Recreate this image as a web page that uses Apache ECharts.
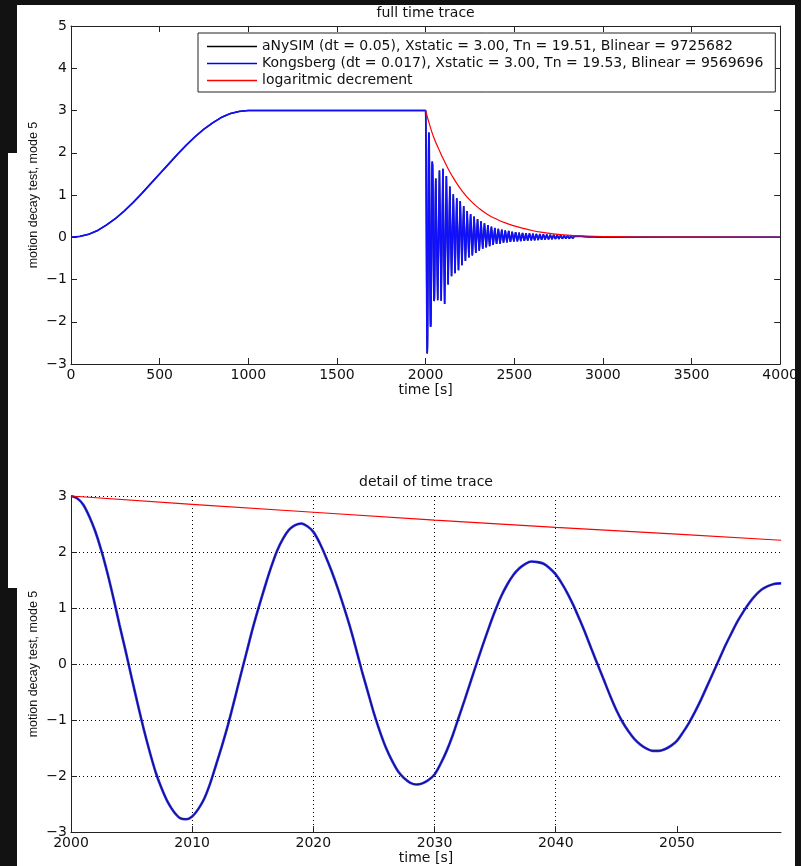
<!DOCTYPE html>
<html><head><meta charset="utf-8">
<script src="https://cdn.jsdelivr.net/npm/echarts@6/dist/echarts.min.js"></script>
<style>html,body{margin:0;padding:0;background:#121212;}#c{width:801px;height:866px;}</style>
</head><body><div id="c"></div>
<script>
// ---- data ----
const legendNames = [
  'aNySIM (dt = 0.05), Xstatic = 3.00, Tn = 19.51, Blinear = 9725682',
  'Kongsberg (dt = 0.017), Xstatic = 3.00, Tn = 19.53, Blinear = 9569696',
  'logaritmic decrement'
];
const titles = ['full time trace', 'detail of time trace'];
const xName = 'time [s]';
const yName = 'motion decay test, mode 5';

// ramp-up and hold (full trace)
const rampTime  = [0,50,100,150,200,250,300,350,400,450,500,550,600,650,700,750,800,850,900,950,1000,2000];
const rampValue = [0,0.02,0.07,0.16,0.29,0.44,0.62,0.82,1.04,1.27,1.50,1.73,1.96,2.18,2.38,2.56,2.71,2.84,2.93,2.98,3.00,3.00];

// first seconds of the decay (detail plot), every half second
const detailTime = [2000,2000.5,2001,2001.5,2002,2002.5,2003,2003.5,2004,2004.5,
  2005,2005.5,2006,2006.5,2007,2007.5,2008,2008.5,2009,2009.5,
  2010,2010.5,2011,2011.5,2012,2012.5,2013,2013.5,2014,2014.5,
  2015,2015.5,2016,2016.5,2017,2017.5,2018,2018.5,2019,2019.5,
  2020,2020.5,2021,2021.5,2022,2022.5,2023,2023.5,2024,2024.5,
  2025,2025.5,2026,2026.5,2027,2027.5,2028,2028.5,2029,2029.5,
  2030,2030.5,2031,2031.5,2032,2032.5,2033,2033.5,2034,2034.5,
  2035,2035.5,2036,2036.5,2037,2037.5,2038,2038.5,2039,2039.5,
  2040,2040.5,2041,2041.5,2042,2042.5,2043,2043.5,2044,2044.5,
  2045,2045.5,2046,2046.5,2047,2047.5,2048,2048.5,2049,2049.5,
  2050,2050.5,2051,2051.5,2052,2052.5,2053,2053.5,2054,2054.5,
  2055,2055.5,2056,2056.5,2057,2057.5,2058,2058.5,2058.6];
const detailValue = [3.00,2.96,2.85,2.64,2.37,2.03,1.63,1.18,0.70,0.24,
  -0.24,-0.71,-1.16,-1.57,-1.94,-2.23,-2.47,-2.64,-2.75,-2.77,
  -2.72,-2.59,-2.40,-2.12,-1.78,-1.43,-1.05,-0.63,-0.20,0.22,
  0.64,1.02,1.38,1.72,2.02,2.24,2.40,2.48,2.51,2.46,
  2.36,2.17,1.93,1.66,1.36,1.03,0.68,0.29,-0.12,-0.50,
  -0.88,-1.21,-1.50,-1.73,-1.92,-2.04,-2.12,-2.15,-2.13,-2.07,
  -1.97,-1.78,-1.55,-1.27,-0.95,-0.63,-0.30,0.03,0.35,0.66,
  0.95,1.21,1.42,1.59,1.71,1.79,1.83,1.82,1.79,1.71,
  1.60,1.44,1.25,1.03,0.78,0.52,0.24,-0.03,-0.30,-0.57,
  -0.82,-1.03,-1.20,-1.34,-1.44,-1.51,-1.55,-1.55,-1.52,-1.46,
  -1.37,-1.22,-1.05,-0.85,-0.63,-0.39,-0.15,0.09,0.33,0.55,
  0.76,0.94,1.10,1.23,1.33,1.39,1.43,1.44,1.44];

// successive extremes of the decay after the detail window (one every half period Tn/2)
const peakStart = 2058.6;
const peakStep = 9.765;
const peakValue = [1.44,-1.49,1.58,-1.50,1.62,-1.58,1.45,-1.12,1.20,-0.92,
  1.02,-0.85,0.92,-0.78,0.86,-0.66,0.74,-0.56,0.62,-0.48,
  0.55,-0.43,0.49,-0.37,0.43,-0.32,0.38,-0.27,0.33,-0.24,
  0.29,-0.21,0.25,-0.18,0.22,-0.16,0.20,-0.15,0.18,-0.13,
  0.16,-0.12,0.15,-0.11,0.13,-0.10,0.12,-0.095,0.11,-0.09,
  0.10,-0.085,0.095,-0.08,0.09,-0.075,0.085,-0.07,0.08,-0.065,
  0.075,-0.06,0.07,-0.055,0.065,-0.05,0.06,-0.045,0.055,-0.04,
  0.05,-0.04,0.045,-0.035,0.04,-0.03,0.035,-0.03,0.03,-0.025,
  0.025,-0.02,0.02,-0.02,0.02,-0.015,0.015,-0.01,0.01,-0.01,
  0.01,-0.01,0.01,-0.005,0.005];
const tailTime = [3000, 4000];
const tailValue = [0, 0];

// logarithmic decrement envelope
const envTime  = [2000,2025,2050,2075,2100,2125,2150,2175,2200,2250,2300,2350,2400,2450,2500,2550,2600,2650,2700,2800,2900,3000,3200,3500,4000];
const envValue = [3.00,2.63,2.32,2.08,1.85,1.64,1.45,1.28,1.13,0.88,0.69,0.54,0.43,0.34,0.27,0.21,0.16,0.12,0.09,0.05,0.03,0.018,0.006,0.002,0];
const envDetailTime  = [2000,2010,2020,2030,2040,2050,2058.6];
const envDetailValue = [3.00,2.85,2.71,2.57,2.44,2.32,2.21];

// ---- build series data ----
function zip(t, v) { return t.map((x, i) => [x, v[i]]); }
const detailData = zip(detailTime, detailValue);
const fullData = zip(rampTime, rampValue)
  .concat(detailData.slice(1))
  .concat(peakValue.slice(1).map((v, i) => [peakStart + (i + 1) * peakStep, v]))
  .concat(zip(tailTime, tailValue));
const envData = zip(envTime, envValue);
const envDetailData = zip(envDetailTime, envDetailValue);

const FONT = 'DejaVu Sans';
const TXT = '#111';
const AX = '#222';
const fmt = v => (v < 0 ? '\u2212' + Math.abs(v) : String(v));
const labelStyle = {color: TXT, fontFamily: FONT, fontSize: 14};
const yNameStyle = {color: TXT, fontFamily: 'Liberation Sans', fontSize: 12.5};

function baseAxis(extra) {
  return Object.assign({
    type: 'value',
    axisLine: {show: true, onZero: false, lineStyle: {color: AX, width: 1}},
    axisTick: {show: true, inside: true, length: 6, lineStyle: {color: AX, width: 1}},
    splitLine: {show: false}
  }, extra);
}
const dotted = {show: true, showMaxLine: false, lineStyle: {color: '#000', width: 1, type: [1, 3]}};
const dottedY = {show: true, lineStyle: {color: '#000', width: 1, type: [1, 3]}};

const chart = echarts.init(document.getElementById('c'), null, {renderer: 'canvas'});
chart.setOption({
  animation: false,
  graphic: [
    {type: 'rect', z: -10, silent: true, shape: {x: 17, y: 5, width: 778, height: 861}, style: {fill: '#fff'}},
    {type: 'rect', z: -10, silent: true, shape: {x: 8, y: 153, width: 10, height: 435}, style: {fill: '#fff'}},
    {type: 'rect', z: 100, zlevel: 1, silent: true, shape: {x: 795, y: 0, width: 6, height: 866}, style: {fill: '#121212'}}
  ],
  grid: [
    {left: 71, top: 26, width: 710, height: 338},
    {left: 71, top: 496, width: 710, height: 338}
  ],
  legend: {
    data: legendNames, orient: 'vertical', left: 198, top: 33,
    icon: 'rect', itemWidth: 50, itemHeight: 1.4, itemGap: 0,
    padding: [5, 12, 3, 9], borderColor: '#222', borderWidth: 1, backgroundColor: '#fff',
    selectedMode: false,
    textStyle: {color: TXT, fontFamily: FONT, fontSize: 14, lineHeight: 17}
  },
  xAxis: [
    baseAxis({gridIndex: 0, position: 'bottom', min: 0, max: 4000, interval: 500,
      axisLabel: Object.assign({margin: 4, formatter: fmt}, labelStyle),
      name: xName, nameLocation: 'middle', nameGap: 18, nameTextStyle: labelStyle}),
    baseAxis({gridIndex: 0, position: 'top', min: 0, max: 4000, interval: 500,
      axisLabel: {show: false},
      name: titles[0], nameLocation: 'middle', nameGap: 6, nameTextStyle: labelStyle}),
    baseAxis({gridIndex: 1, position: 'bottom', min: 2000, max: 2058.59, interval: 10,
      axisTick: {show: true, inside: true, length: 6, lineStyle: {color: AX, width: 1}, customValues: [2000, 2010, 2020, 2030, 2040, 2050]},
      axisLabel: Object.assign({margin: 4, formatter: fmt, showMaxLabel: false}, labelStyle),
      splitLine: dotted,
      name: xName, nameLocation: 'middle', nameGap: 16, nameTextStyle: labelStyle}),
    baseAxis({gridIndex: 1, position: 'top', min: 2000, max: 2058.59, interval: 10,
      axisLine: {show: false, onZero: false}, axisTick: {show: false}, axisLabel: {show: false},
      name: titles[1], nameLocation: 'middle', nameGap: 7, nameTextStyle: labelStyle})
  ],
  yAxis: [
    baseAxis({gridIndex: 0, position: 'left', min: -3, max: 5, interval: 1,
      axisLabel: Object.assign({margin: 4, formatter: fmt}, labelStyle),
      name: yName, nameLocation: 'middle', nameGap: 31, nameMoveOverlap: false, nameTextStyle: yNameStyle}),
    baseAxis({gridIndex: 0, position: 'right', min: -3, max: 5, interval: 1,
      axisLabel: {show: false}}),
    baseAxis({gridIndex: 1, position: 'left', min: -3, max: 3, interval: 1,
      axisLabel: Object.assign({margin: 4, formatter: fmt}, labelStyle),
      splitLine: dottedY,
      name: yName, nameLocation: 'middle', nameGap: 31, nameMoveOverlap: false, nameTextStyle: yNameStyle})
  ],
  series: [
    {name: legendNames[0], type: 'line', xAxisIndex: 0, yAxisIndex: 0, data: fullData,
      showSymbol: false, symbol: 'none', z: 2,
      itemStyle: {color: '#000'}, lineStyle: {color: '#000', width: 1.4}},
    {name: legendNames[1], type: 'line', xAxisIndex: 0, yAxisIndex: 0, data: fullData,
      showSymbol: false, symbol: 'none', z: 3,
      itemStyle: {color: '#0000ff'}, lineStyle: {color: '#1010ff', width: 1.7}},
    {name: legendNames[2], type: 'line', xAxisIndex: 0, yAxisIndex: 0, data: envData,
      showSymbol: false, symbol: 'none', smooth: true, z: 4,
      itemStyle: {color: '#ff0000'}, lineStyle: {color: '#ff0000', width: 1.2}},
    {name: legendNames[1], type: 'line', xAxisIndex: 2, yAxisIndex: 2, data: detailData,
      showSymbol: false, symbol: 'none', smooth: 0.3, z: 3,
      itemStyle: {color: '#0000ff'}, lineStyle: {color: '#2a2ae6', width: 2.6}},
    {name: legendNames[0], type: 'line', xAxisIndex: 2, yAxisIndex: 2, data: detailData,
      showSymbol: false, symbol: 'none', smooth: 0.3, z: 4,
      itemStyle: {color: '#000'}, lineStyle: {color: 'rgba(0,0,50,0.75)', width: 0.9}},
    {name: legendNames[2], type: 'line', xAxisIndex: 2, yAxisIndex: 2, data: envDetailData,
      showSymbol: false, symbol: 'none', z: 5,
      itemStyle: {color: '#ff0000'}, lineStyle: {color: '#ff0000', width: 1.2}}
  ]
});
</script></body></html>
